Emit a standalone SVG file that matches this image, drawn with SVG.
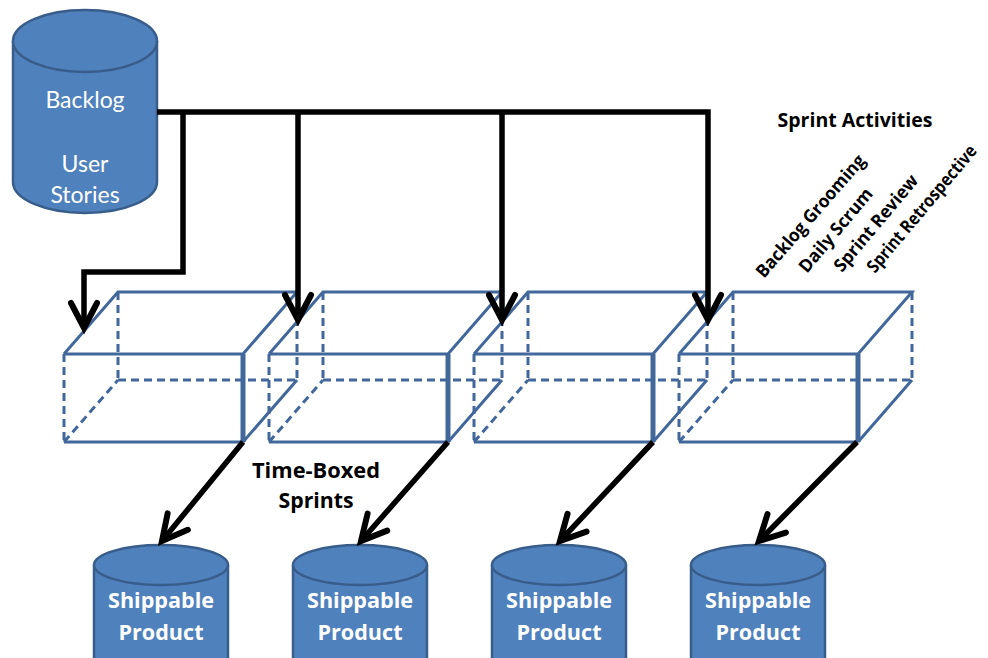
<svg xmlns="http://www.w3.org/2000/svg" width="988" height="658" viewBox="0 0 988 658">
<defs>
<style>
.cyl{fill:#4f81bd;stroke:#385d8a;stroke-width:2.5}
.e{fill:none;stroke:#41679b;stroke-width:3}
.d{fill:none;stroke:#41679b;stroke-width:3;stroke-dasharray:8 5}
.t{fill:none;stroke:#41679b;stroke-width:5}
.c{fill:none;stroke:#000;stroke-width:5.5;stroke-linejoin:miter}
.ah{fill:none;stroke:#000;stroke-width:6;stroke-linecap:round;stroke-linejoin:miter}
.wt{font-family:Lato,"Open Sans",sans-serif;fill:#fff;text-anchor:middle}
.wb{font-family:"Open Sans",Lato,sans-serif;font-weight:bold;fill:#fff;text-anchor:middle}
.bt{font-family:"Open Sans",Lato,sans-serif;font-weight:bold;fill:#000}
</style>
<g id="box">
<path class="d" d="M0 0V88M0 88L54 26M54 -62V26M54 26H233M233 -62V26"/>
<path class="e" d="M0 0H179M0 88H179M0 0L54 -62H233L179 0M179 88L233 26"/>
<path class="t" d="M179 0V88"/>
</g>
<path id="ah" class="ah" d="M-13 -25L0 0L13 -25"/>
</defs>

<g id="backlog">
<path class="cyl" d="M13 41V182A72 31 0 0 0 157 182V41"/>
<ellipse class="cyl" cx="85" cy="41" rx="72" ry="31"/>
<text class="wt" x="85" y="108" font-size="23">Backlog</text>
<text class="wt" x="85" y="172" font-size="23">User</text>
<text class="wt" x="85" y="203" font-size="23">Stories</text>
</g>

<g id="sprint1"><use href="#box" transform="translate(64,354)"/></g>
<g id="sprint2"><use href="#box" transform="translate(269,354)"/></g>
<g id="sprint3"><use href="#box" transform="translate(474,354)"/></g>
<g id="sprint4"><use href="#box" transform="translate(679,354)"/></g>

<g id="product1">
<path class="cyl" d="M94 565V660H228V565"/>
<ellipse class="cyl" cx="161" cy="565" rx="67" ry="20"/>
<text class="wb" x="161" y="608" font-size="22" textLength="106" lengthAdjust="spacingAndGlyphs">Shippable</text>
<text class="wb" x="161" y="640" font-size="22" textLength="85" lengthAdjust="spacingAndGlyphs">Product</text>
</g>
<g id="product2">
<path class="cyl" d="M293 565V660H427V565"/>
<ellipse class="cyl" cx="360" cy="565" rx="67" ry="20"/>
<text class="wb" x="360" y="608" font-size="22" textLength="106" lengthAdjust="spacingAndGlyphs">Shippable</text>
<text class="wb" x="360" y="640" font-size="22" textLength="85" lengthAdjust="spacingAndGlyphs">Product</text>
</g>
<g id="product3">
<path class="cyl" d="M492 565V660H626V565"/>
<ellipse class="cyl" cx="559" cy="565" rx="67" ry="20"/>
<text class="wb" x="559" y="608" font-size="22" textLength="106" lengthAdjust="spacingAndGlyphs">Shippable</text>
<text class="wb" x="559" y="640" font-size="22" textLength="85" lengthAdjust="spacingAndGlyphs">Product</text>
</g>
<g id="product4">
<path class="cyl" d="M691 565V660H825V565"/>
<ellipse class="cyl" cx="758" cy="565" rx="67" ry="20"/>
<text class="wb" x="758" y="608" font-size="22" textLength="106" lengthAdjust="spacingAndGlyphs">Shippable</text>
<text class="wb" x="758" y="640" font-size="22" textLength="85" lengthAdjust="spacingAndGlyphs">Product</text>
</g>

<g id="connectors">
<path class="c" d="M157 112H708V320M183 112V272H84V328M298 112V320M502 112V320"/>
<use href="#ah" transform="translate(84,328)"/>
<use href="#ah" transform="translate(298,320)"/>
<use href="#ah" transform="translate(502,320)"/>
<use href="#ah" transform="translate(708,320)"/>
<path class="c" d="M243 442L162 541M448 442L361 541M653 442L560 541M857 442L759 541"/>
<use href="#ah" transform="translate(162,541) rotate(39)"/>
<use href="#ah" transform="translate(361,541) rotate(41)"/>
<use href="#ah" transform="translate(560,541) rotate(43)"/>
<use href="#ah" transform="translate(759,541) rotate(45)"/>
</g>

<g id="labels">
<text class="bt" x="316" y="478" font-size="21" text-anchor="middle" textLength="128" lengthAdjust="spacingAndGlyphs">Time-Boxed</text>
<text class="bt" x="316" y="508" font-size="21" text-anchor="middle" textLength="75" lengthAdjust="spacingAndGlyphs">Sprints</text>
<text class="bt" x="855" y="127" font-size="19" text-anchor="middle" textLength="155" lengthAdjust="spacingAndGlyphs">Sprint Activities</text>
<text class="bt" font-size="18" textLength="156" lengthAdjust="spacingAndGlyphs" transform="translate(764,279) rotate(-49)">Backlog Grooming</text>
<text class="bt" font-size="18" textLength="104" lengthAdjust="spacingAndGlyphs" transform="translate(807,274) rotate(-50)">Daily Scrum</text>
<text class="bt" font-size="18" textLength="120" lengthAdjust="spacingAndGlyphs" transform="translate(842,273) rotate(-50)">Sprint Review</text>
<text class="bt" font-size="18" textLength="160" lengthAdjust="spacingAndGlyphs" transform="translate(875,274) rotate(-50)">Sprint Retrospective</text>
</g>
</svg>
